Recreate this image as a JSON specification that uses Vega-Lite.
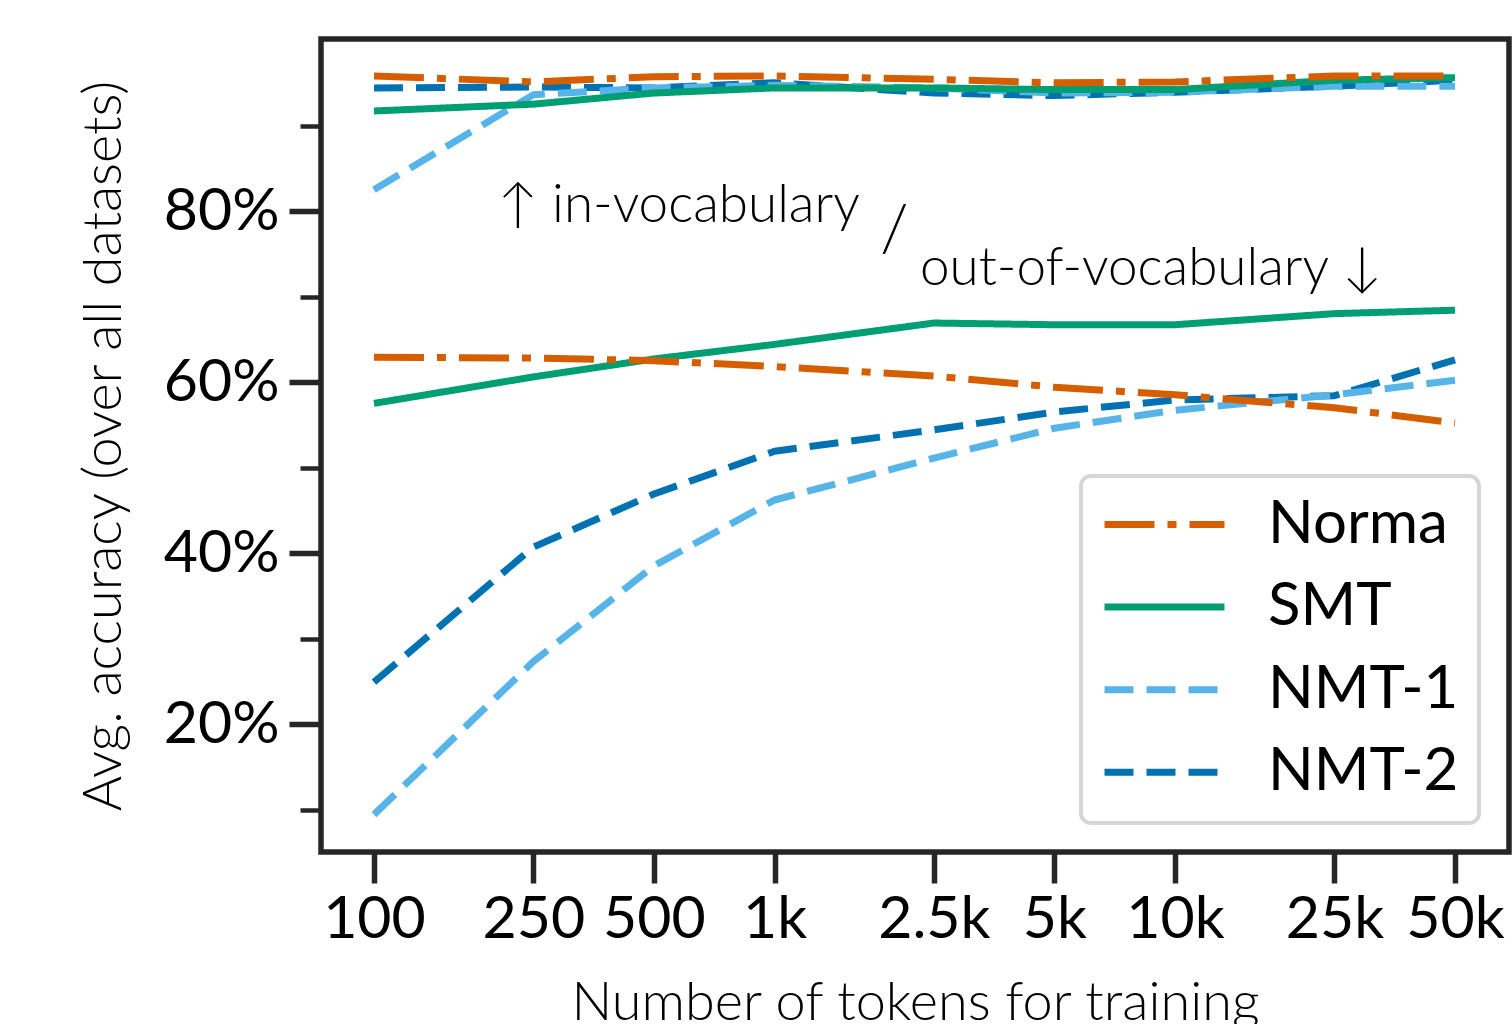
{
  "$schema": "https://vega.github.io/schema/vega-lite/v6.json",
  "autosize": {"type": "none"},
  "padding": {"left": 321, "top": 39, "right": 3, "bottom": 172},
  "width": 1188,
  "height": 813,
  "background": "white",
  "config": {
    "view": {"stroke": "#262626", "strokeWidth": 5.5},
    "font": "Lato",
    "axis": {
      "domain": false, "grid": false,
      "tickColor": "#262626", "tickWidth": 5.5,
      "labelFont": "Lato", "labelFontSize": 59, "labelColor": "black",
      "titleFont": "Lato", "titleFontWeight": 300, "titleFontSize": 54, "titleColor": "black"
    },
    "legend": {
      "strokeWidth": 4
    }
  },
  "datasets": {
    "lines": [
      {"model": "NMT-2", "set": "in", "tokens": 100, "acc": 94.4},
      {"model": "NMT-2", "set": "in", "tokens": 250, "acc": 94.5},
      {"model": "NMT-2", "set": "in", "tokens": 500, "acc": 94.4},
      {"model": "NMT-2", "set": "in", "tokens": 1000, "acc": 95.0},
      {"model": "NMT-2", "set": "in", "tokens": 2500, "acc": 93.8},
      {"model": "NMT-2", "set": "in", "tokens": 5000, "acc": 93.5},
      {"model": "NMT-2", "set": "in", "tokens": 10000, "acc": 93.9},
      {"model": "NMT-2", "set": "in", "tokens": 25000, "acc": 94.6},
      {"model": "NMT-2", "set": "in", "tokens": 50000, "acc": 95.3},
      {"model": "NMT-2", "set": "oov", "tokens": 100, "acc": 24.9},
      {"model": "NMT-2", "set": "oov", "tokens": 250, "acc": 40.7},
      {"model": "NMT-2", "set": "oov", "tokens": 500, "acc": 46.9},
      {"model": "NMT-2", "set": "oov", "tokens": 1000, "acc": 51.9},
      {"model": "NMT-2", "set": "oov", "tokens": 2500, "acc": 54.4},
      {"model": "NMT-2", "set": "oov", "tokens": 5000, "acc": 56.5},
      {"model": "NMT-2", "set": "oov", "tokens": 10000, "acc": 57.9},
      {"model": "NMT-2", "set": "oov", "tokens": 25000, "acc": 58.4},
      {"model": "NMT-2", "set": "oov", "tokens": 50000, "acc": 62.6},
      {"model": "NMT-1", "set": "in", "tokens": 100, "acc": 82.5},
      {"model": "NMT-1", "set": "in", "tokens": 250, "acc": 93.6},
      {"model": "NMT-1", "set": "in", "tokens": 500, "acc": 94.4},
      {"model": "NMT-1", "set": "in", "tokens": 1000, "acc": 94.7},
      {"model": "NMT-1", "set": "in", "tokens": 2500, "acc": 94.4},
      {"model": "NMT-1", "set": "in", "tokens": 5000, "acc": 93.8},
      {"model": "NMT-1", "set": "in", "tokens": 10000, "acc": 93.9},
      {"model": "NMT-1", "set": "in", "tokens": 25000, "acc": 94.6},
      {"model": "NMT-1", "set": "in", "tokens": 50000, "acc": 94.6},
      {"model": "NMT-1", "set": "oov", "tokens": 100, "acc": 9.4},
      {"model": "NMT-1", "set": "oov", "tokens": 250, "acc": 27.3},
      {"model": "NMT-1", "set": "oov", "tokens": 500, "acc": 38.5},
      {"model": "NMT-1", "set": "oov", "tokens": 1000, "acc": 46.2},
      {"model": "NMT-1", "set": "oov", "tokens": 2500, "acc": 51.1},
      {"model": "NMT-1", "set": "oov", "tokens": 5000, "acc": 54.6},
      {"model": "NMT-1", "set": "oov", "tokens": 10000, "acc": 56.7},
      {"model": "NMT-1", "set": "oov", "tokens": 25000, "acc": 58.5},
      {"model": "NMT-1", "set": "oov", "tokens": 50000, "acc": 60.2},
      {"model": "SMT", "set": "in", "tokens": 100, "acc": 91.7},
      {"model": "SMT", "set": "in", "tokens": 250, "acc": 92.5},
      {"model": "SMT", "set": "in", "tokens": 500, "acc": 93.8},
      {"model": "SMT", "set": "in", "tokens": 1000, "acc": 94.4},
      {"model": "SMT", "set": "in", "tokens": 2500, "acc": 94.4},
      {"model": "SMT", "set": "in", "tokens": 5000, "acc": 94.2},
      {"model": "SMT", "set": "in", "tokens": 10000, "acc": 94.2},
      {"model": "SMT", "set": "in", "tokens": 25000, "acc": 95.3},
      {"model": "SMT", "set": "in", "tokens": 50000, "acc": 95.6},
      {"model": "SMT", "set": "oov", "tokens": 100, "acc": 57.5},
      {"model": "SMT", "set": "oov", "tokens": 250, "acc": 60.6},
      {"model": "SMT", "set": "oov", "tokens": 500, "acc": 62.7},
      {"model": "SMT", "set": "oov", "tokens": 1000, "acc": 64.4},
      {"model": "SMT", "set": "oov", "tokens": 2500, "acc": 66.9},
      {"model": "SMT", "set": "oov", "tokens": 5000, "acc": 66.7},
      {"model": "SMT", "set": "oov", "tokens": 10000, "acc": 66.7},
      {"model": "SMT", "set": "oov", "tokens": 25000, "acc": 68.0},
      {"model": "SMT", "set": "oov", "tokens": 50000, "acc": 68.4},
      {"model": "Norma", "set": "in", "tokens": 100, "acc": 95.8},
      {"model": "Norma", "set": "in", "tokens": 250, "acc": 95.1},
      {"model": "Norma", "set": "in", "tokens": 500, "acc": 95.7},
      {"model": "Norma", "set": "in", "tokens": 1000, "acc": 95.8},
      {"model": "Norma", "set": "in", "tokens": 2500, "acc": 95.4},
      {"model": "Norma", "set": "in", "tokens": 5000, "acc": 95.0},
      {"model": "Norma", "set": "in", "tokens": 10000, "acc": 95.1},
      {"model": "Norma", "set": "in", "tokens": 25000, "acc": 95.8},
      {"model": "Norma", "set": "in", "tokens": 50000, "acc": 95.8},
      {"model": "Norma", "set": "oov", "tokens": 100, "acc": 62.9},
      {"model": "Norma", "set": "oov", "tokens": 250, "acc": 62.8},
      {"model": "Norma", "set": "oov", "tokens": 500, "acc": 62.5},
      {"model": "Norma", "set": "oov", "tokens": 1000, "acc": 61.8},
      {"model": "Norma", "set": "oov", "tokens": 2500, "acc": 60.7},
      {"model": "Norma", "set": "oov", "tokens": 5000, "acc": 59.4},
      {"model": "Norma", "set": "oov", "tokens": 10000, "acc": 58.5},
      {"model": "Norma", "set": "oov", "tokens": 25000, "acc": 57.0},
      {"model": "Norma", "set": "oov", "tokens": 50000, "acc": 55.2}
    ],
    "notes": [
      {"label": "↑ in-vocabulary", "tokens": 204, "acc": 78.7, "fs": 53},
      {"label": "/", "tokens": 1834, "acc": 75.3, "fs": 66},
      {"label": "out-of-vocabulary ↓", "tokens": 2308, "acc": 71.35, "fs": 53}
    ]
  },
  "layer": [
    {
      "data": {"name": "lines"},
      "mark": {"type": "line", "strokeWidth": 7, "strokeJoin": "round", "strokeCap": "butt"},
      "encoding": {
        "x": {
          "field": "tokens", "type": "quantitative",
          "scale": {"type": "log", "domain": [73.75, 68200], "nice": false},
          "axis": {
            "values": [100, 250, 500, 1000, 2500, 5000, 10000, 25000, 50000],
            "labelExpr": "datum.value >= 1000 ? (datum.value / 1000) + 'k' : datum.value",
            "tickSize": 31, "labelPadding": 7, "labelFlush": false, "labelOverlap": false,
            "title": "Number of tokens for training", "titlePadding": 27
          }
        },
        "y": {
          "field": "acc", "type": "quantitative",
          "scale": {"domain": [5.03, 100.12], "nice": false, "zero": false},
          "axis": {
            "values": [10, 20, 30, 40, 50, 60, 70, 80, 90],
            "labelExpr": "datum.value % 20 === 0 ? datum.value + '%' : ''",
            "tickSize": {"condition": {"test": "datum.value % 20 === 0", "value": 32}, "value": 21},
            "tickWidth": {"condition": {"test": "datum.value % 20 === 0", "value": 5.5}, "value": 4.5},
            "labelPadding": 10, "labelOverlap": false, "labelFlush": false,
            "title": "Avg. accuracy (over all datasets)", "titlePadding": 32
          }
        },
        "color": {
          "field": "model", "type": "nominal",
          "scale": {"domain": ["Norma", "SMT", "NMT-1", "NMT-2"], "range": ["#D55E00", "#009E73", "#56B4E9", "#0072B2"]},
          "legend": {
            "title": null, "orient": "none", "legendX": 760, "legendY": 437,
            "symbolType": "stroke", "symbolSize": 14400, "symbolStrokeWidth": 7,
            "labelFont": "Lato", "labelFontSize": 60, "labelColor": "black", "labelOffset": 40, "labelLimit": 400,
            "rowPadding": 21.6, "clipHeight": 57, "padding": 20,
            "strokeColor": "#d6d6d6", "fillColor": "white", "cornerRadius": 10
          }
        },
        "strokeDash": {
          "field": "model", "type": "nominal",
          "scale": {"domain": ["Norma", "SMT", "NMT-1", "NMT-2"], "range": [[50, 13, 9, 13], [1, 0], [29, 13], [29, 13]]},
          "legend": null
        },
        "detail": {"field": "set"},
        "order": {"field": "tokens", "type": "quantitative"}
      }
    },
    {
      "data": {"name": "notes"},
      "mark": {"type": "text", "font": "Lato", "fontWeight": 300, "baseline": "alphabetic", "align": "left", "color": "black"},
      "encoding": {
        "x": {"field": "tokens", "type": "quantitative"},
        "y": {"field": "acc", "type": "quantitative"},
        "text": {"field": "label"},
        "size": {"field": "fs", "type": "quantitative", "scale": null, "legend": null}
      }
    }
  ]
}
